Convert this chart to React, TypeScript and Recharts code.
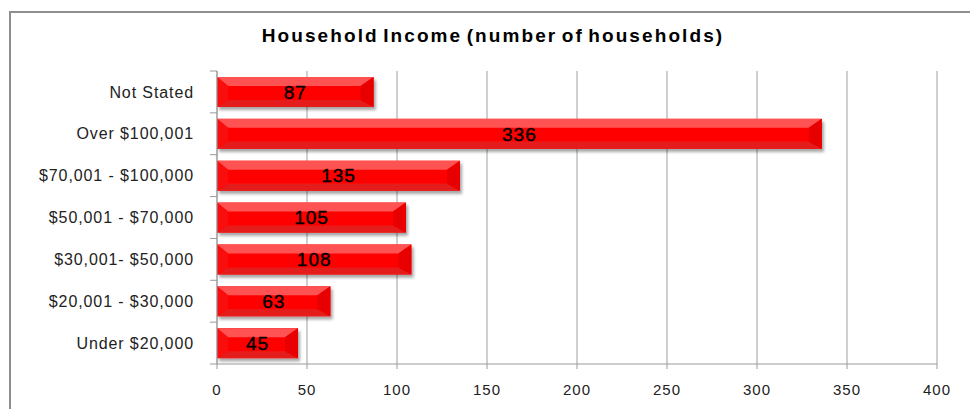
import React from "react";
import { ComposedChart, Bar, XAxis, YAxis, CartesianGrid, LabelList } from "recharts";

const categories = [
  "Not Stated",
  "Over $100,001",
  "$70,001 - $100,000",
  "$50,001 - $70,000",
  "$30,001- $50,000",
  "$20,001 - $30,000",
  "Under $20,000",
];
const households = [87, 336, 135, 105, 108, 63, 45];
const xTicks = [0, 50, 100, 150, 200, 250, 300, 350, 400];
const title = "Household Income (number of households)";

const data = categories.map((c, i) => ({ name: c, value: households[i] }));

const FONT = "'Liberation Sans', Arial, sans-serif";

const BevelBar = (props: any) => {
  const { x, y, width: w, height: h } = props;
  if (!w || !h) return null;
  const bt = 9, bb = 7, bl = 11, br = 13;
  const p = (pts: number[][]) => pts.map((q) => q.join(",")).join(" ");
  return (
    <g filter="url(#barShadow)">
      <rect x={x} y={y} width={w} height={h} fill="#FE0404" />
      <polygon points={p([[x, y], [x + w, y], [x + w - br, y + bt], [x + bl, y + bt]])} fill="#FF5252" />
      <polygon points={p([[x, y + h], [x + w, y + h], [x + w - br, y + h - bb], [x + bl, y + h - bb]])} fill="#E41C1C" />
      <polygon points={p([[x, y], [x + bl, y + bt], [x + bl, y + h - bb], [x, y + h]])} fill="#FA0A0A" />
      <polygon points={p([[x + w, y], [x + w - br, y + bt], [x + w - br, y + h - bb], [x + w, y + h]])} fill="#E80000" />
    </g>
  );
};

const YTick = (props: any) => {
  const { x, y, payload, index, height, visibleTicksCount } = props;
  const n = visibleTicksCount || categories.length;
  const step = height / n;
  const ax = x + 16 + 7;
  return (
    <g>
      <line x1={ax - 7} x2={ax} y1={y - step / 2} y2={y - step / 2} stroke="#9A9A9A" />
      {index === n - 1 && (
        <line x1={ax - 7} x2={ax} y1={y + step / 2} y2={y + step / 2} stroke="#9A9A9A" />
      )}
      <text x={x} y={y} dy="0.355em" textAnchor="end" fill="#222" fontSize={16} fontFamily={FONT} letterSpacing={0.9}>
        {payload.value}
      </text>
    </g>
  );
};

export default function App() {
  return (
    <div style={{ position: "absolute", left: 0, top: 0, width: 970, height: 409, background: "#fff", overflow: "hidden" }}>
      <div
        style={{
          position: "absolute",
          left: 9,
          top: 11,
          width: 1000,
          height: 500,
          borderLeft: "2px solid #8E8E8E",
          borderTop: "2px solid #8E8E8E",
        }}
      />
      <div
        style={{
          position: "absolute",
          left: 0,
          width: 986,
          top: 25,
          textAlign: "center",
          fontFamily: FONT,
          fontWeight: "bold",
          fontSize: 19,
          letterSpacing: 2.1,
          wordSpacing: -3,
          color: "#000",
          whiteSpace: "nowrap",
        }}
      >
        {title}
      </div>
      <div style={{ position: "absolute", left: 0, top: 0 }}>
        <ComposedChart
          width={970}
          height={409}
          data={data}
          layout="vertical"
          margin={{ top: 71, right: 33, bottom: 0, left: 0 }}
        >
          <defs>
            <filter id="barShadow" x="-5%" y="-20%" width="115%" height="160%">
              <feDropShadow dx={2} dy={3} stdDeviation={1.6} floodColor="#000" floodOpacity={0.35} />
            </filter>
          </defs>
          <CartesianGrid horizontal={false} vertical={true} stroke="#A0A0A0" strokeWidth={1} />
          <XAxis
            type="number"
            domain={[0, 400]}
            ticks={xTicks}
            interval={0}
            height={45}
            axisLine={{ stroke: "#9A9A9A" }}
            tickLine={{ stroke: "#9A9A9A" }}
            tickSize={5}
            tickMargin={15}
            tick={{ fill: "#222", fontSize: 15, fontFamily: FONT, letterSpacing: 1 }}
          />
          <YAxis
            type="category"
            dataKey="name"
            width={217}
            axisLine={{ stroke: "#9A9A9A" }}
            tickLine={false}
            tickSize={7}
            tickMargin={16}
            interval={0}
            tick={<YTick />}
          />
          <Bar dataKey="value" barSize={30} shape={<BevelBar />} isAnimationActive={false}>
            <LabelList
              dataKey="value"
              position="center"
              fill="#000"
              stroke="#000"
              strokeWidth={0.4}
              fontSize={19}
              fontFamily={FONT}
              letterSpacing={1}
            />
          </Bar>
        </ComposedChart>
      </div>
    </div>
  );
}
